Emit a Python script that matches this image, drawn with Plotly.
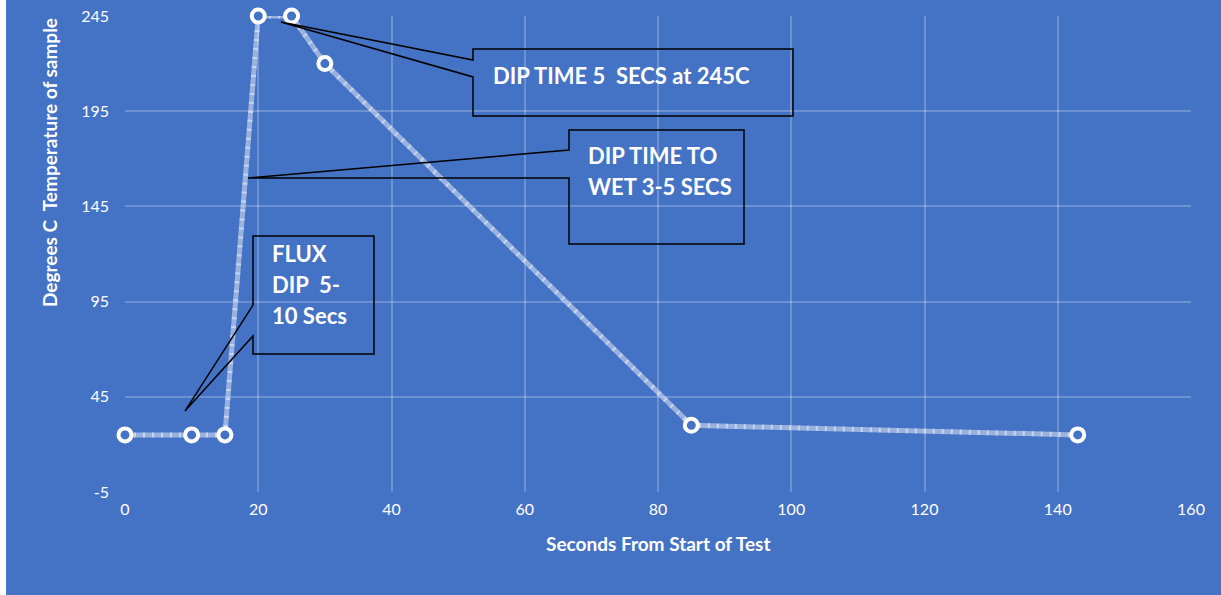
import plotly.graph_objects as go

# ---- data ----
seconds = [0, 10, 15, 20, 25, 30, 85, 143]
temps = [25, 25, 25, 245, 245, 220, 30, 25]
x_ticks = [0, 20, 40, 60, 80, 100, 120, 140, 160]
y_ticks = [-5, 45, 95, 145, 195, 245]
y_tick_labels = ["-5", "45", "95", "145", "195", "245"]
x_title = "Seconds From Start of Test"
y_title = "Degrees C\u00a0 Temperature of sample"
note1 = ["DIP TIME 5\u00a0 SECS at 245C"]
note2 = ["DIP TIME TO", "WET 3-5 SECS"]
note3 = ["FLUX", "DIP\u00a0 5-", "10 Secs"]

BG = "#4472C4"
FONT = "Lato"

fig = go.Figure()
fig.add_trace(go.Scatter(x=seconds, y=temps, mode="lines", cliponaxis=False,
                         line=dict(color="rgba(225,232,245,0.55)", width=5),
                         hoverinfo="skip", showlegend=False))
fig.add_trace(go.Scatter(x=seconds, y=temps, mode="lines", cliponaxis=False,
                         line=dict(color="rgba(255,255,255,0.45)", width=5, dash="2px,7px"),
                         hoverinfo="skip", showlegend=False))
fig.add_trace(go.Scatter(x=seconds, y=temps, mode="markers", cliponaxis=False,
                         marker=dict(symbol="circle", size=13, color=BG,
                                     line=dict(color="white", width=4)),
                         showlegend=False))

grid = "rgba(255,255,255,0.22)"
fig.update_xaxes(range=[0, 160], tickvals=x_ticks, showgrid=True, gridcolor=grid, gridwidth=1.5,
                 zeroline=False, showline=False, ticks="", ticklabelstandoff=6,
                 tickfont=dict(family=FONT, size=16, color="white"))
fig.update_yaxes(range=[-5, 245], tickvals=y_ticks, ticktext=y_tick_labels, showgrid=True,
                 gridcolor=grid, gridwidth=1.5,
                 zeroline=False, showline=False, ticks="", ticklabelstandoff=15,
                 tickfont=dict(family=FONT, size=16, color="white"))

def callout(x0, x1, y0, y1, wy_hi, wy_lo, tx, ty):
    # box with a wedge pointer from its left edge to the tip (tx, ty)
    return dict(type="path", xref="x", yref="y",
                path=f"M {x0},{y0} L {x1},{y0} L {x1},{y1} L {x0},{y1} L {x0},{wy_lo} L {tx},{ty} L {x0},{wy_hi} Z",
                line=dict(color="black", width=1.5), fillcolor="rgba(0,0,0,0)")

shapes = [
    callout(52.23, 100.26, 227.67, 192.48, 221.9, 213.0, 23.4, 241.85),
    callout(66.64, 92.91, 185.13, 125.25, 174.6, 159.9, 18.46, 159.9),
    callout(19.21, 37.37, 129.45, 67.48, 93.2, 76.9, 9.0, 37.5),
    dict(type="rect", xref="paper", yref="paper", x0=-0.13, x1=-0.1116, y0=-0.3, y1=1.1,
         fillcolor="white", line=dict(width=0), layer="above"),
]

anns = []
def lines(texts, x, y_top, step):
    for i, t in enumerate(texts):
        anns.append(dict(text="<b>%s</b>" % t, x=x, y=y_top - i * step, xref="x", yref="y",
                         xanchor="left", yanchor="middle", showarrow=False,
                         font=dict(family=FONT, size=22, color="white")))

lines(note1, 54.93, 214.0, 0)
lines(note2, 69.19, 171.8, 16.3)
lines(note3, 21.8, 120.5, 16.5)

anns.append(dict(text="<b>%s</b>" % y_title, x=-0.0713, y=168.3, xref="paper", yref="y",
                 textangle=-90, showarrow=False, xanchor="center", yanchor="middle",
                 font=dict(family=FONT, size=19, color="white")))
anns.append(dict(text="<b>%s</b>" % x_title, x=0.5, y=-0.109, xref="paper", yref="paper",
                 showarrow=False, xanchor="center", yanchor="middle",
                 font=dict(family=FONT, size=19, color="white")))

fig.update_layout(width=1221, height=595, paper_bgcolor=BG, plot_bgcolor=BG,
                  margin=dict(l=125, r=30, t=16, b=103, autoexpand=False),
                  shapes=shapes, annotations=anns,
                  font=dict(family=FONT, color="white"))

fig.write_html("out.html", config={"displayModeBar": False},
               post_script="document.body.style.margin='0';")
